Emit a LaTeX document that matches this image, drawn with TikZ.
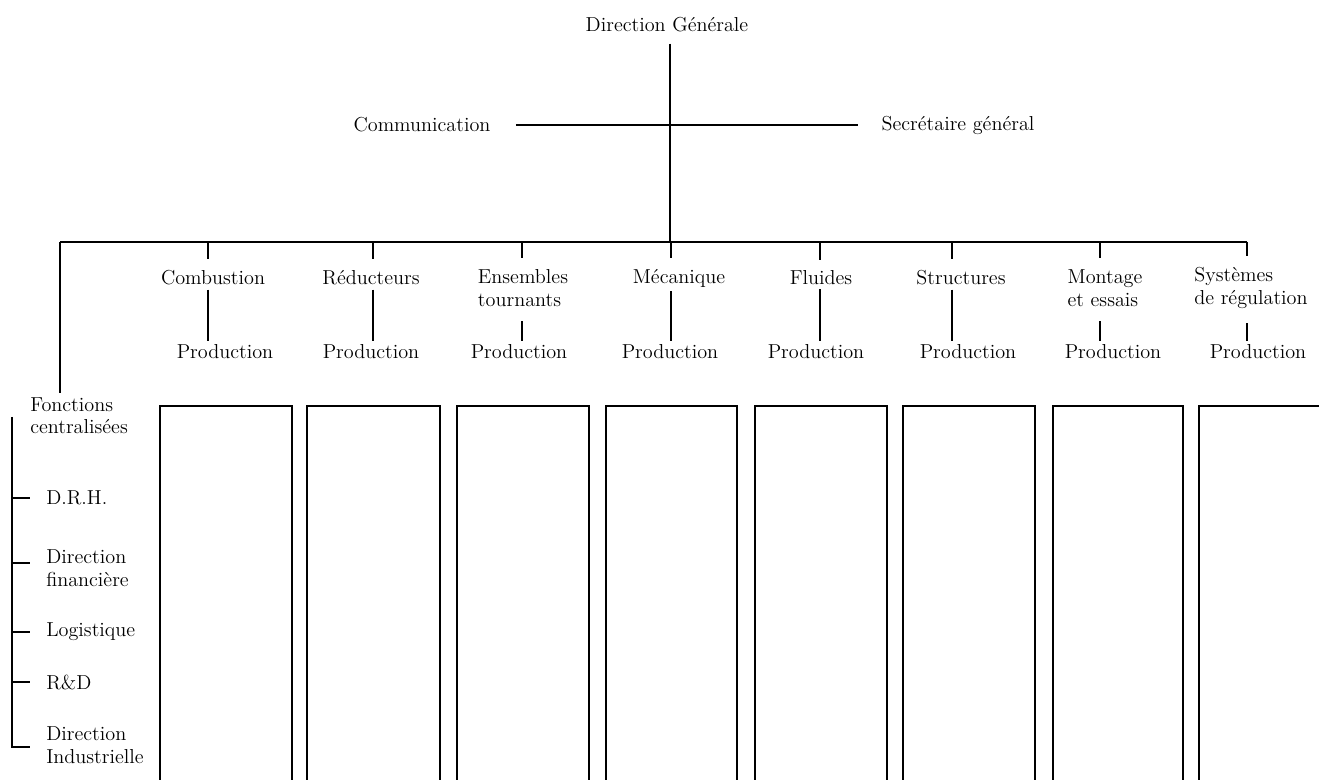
\documentclass[tikz,border=0pt]{standalone}
\usepackage{tikz}
\usetikzlibrary{positioning,calc}

\begin{document}
\begin{tikzpicture}[x=0.02cm, y=-0.02cm, line width=0.9pt,
    every node/.style={inner sep=2pt, font=\fontsize{11.5}{13}\selectfont}]
    \useasboundingbox (0,0) rectangle (1319,780);

    % Direction
    \node (dg) at (667,25) {Direction Générale};
    \coordinate (hub) at (670,242);
    \draw[shorten <=4pt] (dg.south -| hub) -- (hub);

    % Staff
    \node (comm) at (422,125) {Communication};
    \node (sg) at (958,125) {Secrétaire général};
    \draw[shorten <=12pt, shorten >=11pt] (comm.east) -- (sg.west);

    % Main bar
    \coordinate (barL) at (60,242);
    \coordinate (barR) at (1247,242);
    \draw (barL) -- (barR);

    % Divisions
    \coordinate (t1) at (208,242);
    \coordinate (t2) at (373,242);
    \coordinate (t3) at (522,242);
    \coordinate (t4) at (671,242);
    \coordinate (t5) at (820,242);
    \coordinate (t6) at (952,242);
    \coordinate (t7) at (1100,242);
    \coordinate (t8) at (1247,242);

    \node (d1) at (213,278) {Combustion};
    \node (d2) at (371,278) {Réducteurs};
    \node[align=left] (d3) at (523,288) {Ensembles\\tournants};
    \node (d4) at (679,278) {Mécanique};
    \node (d5) at (821,278) {Fluides};
    \node (d6) at (961,278) {Structures};
    \node[align=left] (d7) at (1105,288) {Montage\\et essais};
    \node[align=left] (d8) at (1251,288) {Systèmes\\de régulation};

    \node (p1) at (225,352) {Production};
    \node (p2) at (371,352) {Production};
    \node (p3) at (519,352) {Production};
    \node (p4) at (670,352) {Production};
    \node (p5) at (816,352) {Production};
    \node (p6) at (968,352) {Production};
    \node (p7) at (1113,352) {Production};
    \node (p8) at (1258,352) {Production};

    \foreach \i in {1,...,8}
        \draw[shorten >=4pt] (t\i) -- (t\i |- d\i.north);
    \foreach \i in {1,2,4,5,6}
        \draw (t\i |- d\i.south) -- (t\i |- p\i.north);
    \foreach \i in {3,7,8}
        \draw[shorten <=6pt] (t\i |- d\i.south) -- (t\i |- p\i.north);

    % Centralised functions
    \node[align=left, anchor=north west] (fc) at (26,393) {Fonctions\\centralisées};
    \draw (barL) -- (barL |- fc.north);

    \coordinate (brkT) at (12,417);
    \coordinate (brkB) at (12,747);
    \node[anchor=west] (drh) at (42,498) {D.R.H.};
    \node[anchor=west, align=left] (fin) at (42,568) {Direction\\financière};
    \node[anchor=west] (log) at (42,632) {Logistique};
    \node[anchor=west] (rd) at (42,682) {R\&D};
    \node[anchor=west, align=left] (ind) at (42,745) {Direction\\Industrielle};

    \draw (brkT) -- (brkB) -- ++(18,0);
    \draw (brkT |- drh.west) -- ++(18,0);
    \draw (brkT |- 0,563) -- ++(18,0);
    \draw (brkT |- log.west) -- ++(18,0);
    \draw (brkT |- rd.west) -- ++(18,0);

    % Division columns
    \foreach \l/\r in {160/292, 307/440, 457/589, 606/737, 755/887, 903/1035, 1053/1183}
        \draw (\l,780) -- (\l,406) -- (\r,406) -- (\r,780);
    \draw (1199,780) -- (1199,406) -- (1319,406);

\end{tikzpicture}
\end{document}
